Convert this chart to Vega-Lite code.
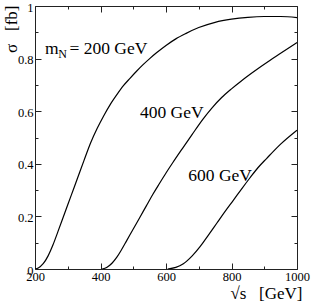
{
  "$schema": "https://vega.github.io/schema/vega-lite/v6.json",
  "width": 262,
  "height": 263,
  "autosize": {"type": "none"},
  "padding": {"left": 35, "top": 6, "right": 16, "bottom": 37},
  "config": {
    "view": {"stroke": null},
    "font": "Liberation Serif",
    "axis": {
      "domainColor": "#222",
      "tickColor": "#222",
      "tickWidth": 1,
      "domainWidth": 1,
      "grid": false,
      "labelFont": "Liberation Serif",
      "labelFontSize": 12.5,
      "labelColor": "#000",
      "labelFlush": false,
      "labelOverlap": false,
      "titleFont": "Liberation Serif",
      "titleFontWeight": "normal",
      "titleColor": "#000"
    }
  },
  "datasets": {
    "curves": [
      {"m": 200, "s": 200, "sigma": 0.0},
      {"m": 200, "s": 210, "sigma": 0.004},
      {"m": 200, "s": 225, "sigma": 0.02},
      {"m": 200, "s": 240, "sigma": 0.05},
      {"m": 200, "s": 255, "sigma": 0.092},
      {"m": 200, "s": 270, "sigma": 0.142},
      {"m": 200, "s": 290, "sigma": 0.21},
      {"m": 200, "s": 310, "sigma": 0.278},
      {"m": 200, "s": 330, "sigma": 0.346},
      {"m": 200, "s": 350, "sigma": 0.414},
      {"m": 200, "s": 370, "sigma": 0.48},
      {"m": 200, "s": 390, "sigma": 0.535},
      {"m": 200, "s": 410, "sigma": 0.583},
      {"m": 200, "s": 430, "sigma": 0.626},
      {"m": 200, "s": 450, "sigma": 0.663},
      {"m": 200, "s": 470, "sigma": 0.697},
      {"m": 200, "s": 490, "sigma": 0.725},
      {"m": 200, "s": 510, "sigma": 0.752},
      {"m": 200, "s": 530, "sigma": 0.777},
      {"m": 200, "s": 551, "sigma": 0.801},
      {"m": 200, "s": 571, "sigma": 0.822},
      {"m": 200, "s": 600, "sigma": 0.85},
      {"m": 200, "s": 630, "sigma": 0.875},
      {"m": 200, "s": 660, "sigma": 0.895},
      {"m": 200, "s": 700, "sigma": 0.918},
      {"m": 200, "s": 750, "sigma": 0.938},
      {"m": 200, "s": 800, "sigma": 0.95},
      {"m": 200, "s": 850, "sigma": 0.957},
      {"m": 200, "s": 900, "sigma": 0.96},
      {"m": 200, "s": 950, "sigma": 0.96},
      {"m": 200, "s": 1000, "sigma": 0.956},
      {"m": 400, "s": 405, "sigma": 0.0},
      {"m": 400, "s": 420, "sigma": 0.007},
      {"m": 400, "s": 435, "sigma": 0.022},
      {"m": 400, "s": 450, "sigma": 0.045},
      {"m": 400, "s": 465, "sigma": 0.075},
      {"m": 400, "s": 480, "sigma": 0.108},
      {"m": 400, "s": 500, "sigma": 0.152},
      {"m": 400, "s": 520, "sigma": 0.196},
      {"m": 400, "s": 540, "sigma": 0.24},
      {"m": 400, "s": 560, "sigma": 0.284},
      {"m": 400, "s": 580, "sigma": 0.325},
      {"m": 400, "s": 600, "sigma": 0.365},
      {"m": 400, "s": 620, "sigma": 0.403},
      {"m": 400, "s": 650, "sigma": 0.458},
      {"m": 400, "s": 680, "sigma": 0.512},
      {"m": 400, "s": 713, "sigma": 0.57},
      {"m": 400, "s": 740, "sigma": 0.612},
      {"m": 400, "s": 770, "sigma": 0.652},
      {"m": 400, "s": 800, "sigma": 0.685},
      {"m": 400, "s": 830, "sigma": 0.715},
      {"m": 400, "s": 860, "sigma": 0.743},
      {"m": 400, "s": 890, "sigma": 0.77},
      {"m": 400, "s": 917, "sigma": 0.793},
      {"m": 400, "s": 950, "sigma": 0.82},
      {"m": 400, "s": 1000, "sigma": 0.861},
      {"m": 600, "s": 605, "sigma": 0.0},
      {"m": 600, "s": 630, "sigma": 0.006},
      {"m": 600, "s": 653, "sigma": 0.02},
      {"m": 600, "s": 680, "sigma": 0.05},
      {"m": 600, "s": 704, "sigma": 0.085},
      {"m": 600, "s": 730, "sigma": 0.13},
      {"m": 600, "s": 755, "sigma": 0.174},
      {"m": 600, "s": 780, "sigma": 0.218},
      {"m": 600, "s": 806, "sigma": 0.262},
      {"m": 600, "s": 830, "sigma": 0.303},
      {"m": 600, "s": 856, "sigma": 0.346},
      {"m": 600, "s": 880, "sigma": 0.384},
      {"m": 600, "s": 907, "sigma": 0.42},
      {"m": 600, "s": 950, "sigma": 0.475},
      {"m": 600, "s": 1000, "sigma": 0.528}
    ],
    "labels": [
      {"s": 305, "sigma": 0.8175, "text": "= 200 GeV"},
      {"s": 520.6, "sigma": 0.573, "text": "400 GeV"},
      {"s": 668, "sigma": 0.336, "text": "600 GeV"}
    ],
    "mlabel": [{"s": 230.5, "sigma": 0.8175, "text": "m"}],
    "nlabel": [{"s": 271, "sigma": 0.802, "text": "N"}]
  },
  "layer": [
    {
      "data": {"name": "curves"},
      "mark": {"type": "line", "color": "#000", "strokeWidth": 1.2, "interpolate": "monotone", "clip": true},
      "encoding": {
        "x": {
          "field": "s", "type": "quantitative",
          "scale": {"domain": [200, 1000], "nice": false, "zero": false},
          "axis": {
            "orient": "bottom",
            "values": [200, 300, 400, 500, 600, 700, 800, 900, 1000],
            "format": "d",
            "labelFont": "Liberation Serif",
            "labelFontSize": 12.5,
            "labelExpr": "datum.value % 200 === 0 ? datum.label : ''",
            "tickSize": {"condition": {"test": "datum.value % 200 === 0", "value": -6}, "value": -3},
            "labelPadding": 7,
            "labelBaseline": "top",
            "title": "√s\u00a0\u00a0 [GeV]",
            "titleFont": "Liberation Serif",
            "titleFontSize": 17,
            "titleAnchor": "end",
            "titleAlign": "right",
            "titleBaseline": "alphabetic",
            "titleX": 267,
            "titleY": 29
          }
        },
        "y": {
          "field": "sigma", "type": "quantitative",
          "scale": {"domain": [0, 1], "nice": false},
          "axis": {
            "orient": "left",
            "values": [0, 0.1, 0.2, 0.3, 0.4, 0.5, 0.6, 0.7, 0.8, 0.9, 1],
            "format": "~g",
            "labelFont": "Liberation Serif",
            "labelFontSize": 12.5,
            "labelExpr": "abs(datum.value * 5 - round(datum.value * 5)) < 0.001 ? datum.label : ''",
            "tickSize": {"condition": {"test": "abs(datum.value * 5 - round(datum.value * 5)) < 0.001", "value": -6}, "value": -3},
            "labelPadding": 8,
            "labelOffset": 1,
            "title": "σ\u00a0\u00a0 [fb]",
            "titleFont": "Liberation Serif",
            "titleFontSize": 17,
            "titleAngle": -90,
            "titleAnchor": "end",
            "titleAlign": "right",
            "titleBaseline": "middle",
            "titleX": -24,
            "titleY": -1
          }
        },
        "detail": {"field": "m", "type": "nominal"}
      }
    },
    {
      "data": {"name": "labels"},
      "mark": {"type": "text", "align": "left", "baseline": "alphabetic", "fontSize": 17.5, "font": "Liberation Serif", "color": "#000"},
      "encoding": {
        "x": {
          "field": "s", "type": "quantitative",
          "axis": {
            "orient": "top",
            "values": [200, 300, 400, 500, 600, 700, 800, 900, 1000],
            "labels": false,
            "title": null,
            "tickSize": {"condition": {"test": "datum.value % 200 === 0", "value": -6}, "value": -3}
          }
        },
        "y": {
          "field": "sigma", "type": "quantitative",
          "axis": {
            "orient": "right",
            "values": [0, 0.1, 0.2, 0.3, 0.4, 0.5, 0.6, 0.7, 0.8, 0.9, 1],
            "labels": false,
            "title": null,
            "tickSize": {"condition": {"test": "abs(datum.value * 5 - round(datum.value * 5)) < 0.001", "value": -6}, "value": -3}
          }
        },
        "text": {"field": "text"}
      }
    },
    {
      "data": {"name": "mlabel"},
      "mark": {"type": "text", "align": "left", "baseline": "alphabetic", "fontSize": 17.5, "font": "Liberation Serif", "color": "#000"},
      "encoding": {
        "x": {"field": "s", "type": "quantitative", "axis": null},
        "y": {"field": "sigma", "type": "quantitative", "axis": null},
        "text": {"field": "text"}
      }
    },
    {
      "data": {"name": "nlabel"},
      "mark": {"type": "text", "align": "left", "baseline": "alphabetic", "fontSize": 12, "font": "Liberation Serif", "color": "#000"},
      "encoding": {
        "x": {"field": "s", "type": "quantitative", "axis": null},
        "y": {"field": "sigma", "type": "quantitative", "axis": null},
        "text": {"field": "text"}
      }
    }
  ],
  "resolve": {"axis": {"x": "independent", "y": "independent"}}
}
